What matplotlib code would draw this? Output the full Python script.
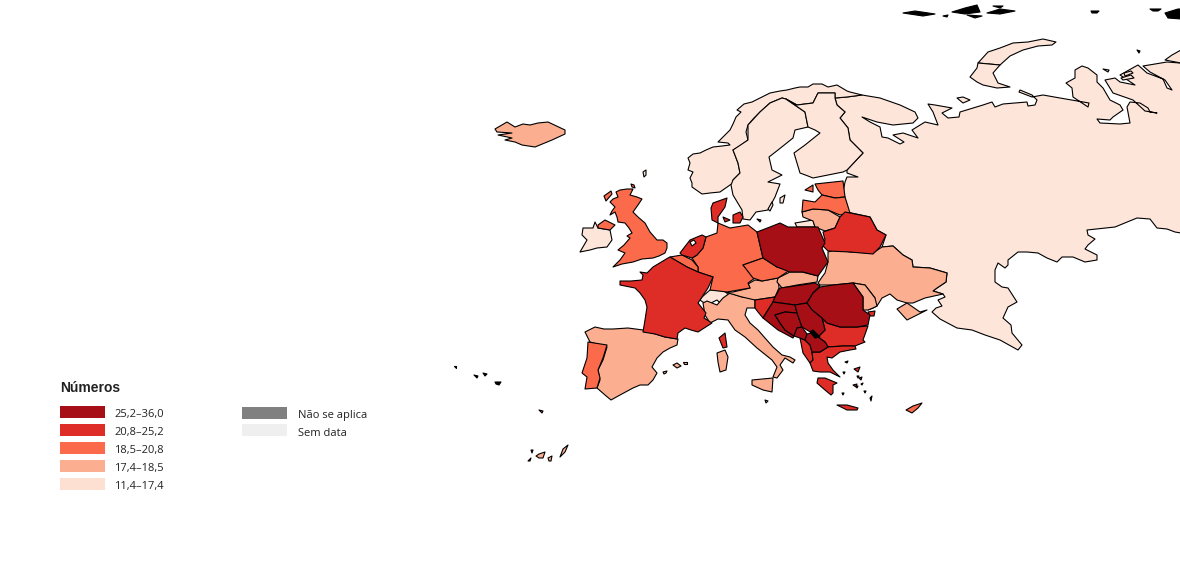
#!/usr/bin/env python3
"""Choropleth of Europe, outlines traced in projected map units (1 unit = 1 px of the figure)."""
import matplotlib
matplotlib.use("Agg")
import matplotlib.pyplot as plt
from matplotlib.patches import Polygon, Rectangle

# --- class labels, darkest first
CLASS_LABELS = ["25,2–36,0", "20,8–25,2", "18,5–20,8", "17,4–18,5", "11,4–17,4"]
CLASS_COLORS = ["#a50f15", "#de2d26", "#fb6a4a", "#fcae91", "#fee5d9"]
OTHER_LABELS = ["Não se aplica", "Sem data"]
OTHER_COLORS = ["#808080", "#efefef"]
NO_DATA_BLACK = "#000000"

# --- outlines
RUSSIA = [(835,98),(847,97),(862,95),(880,98),(900,105),(915,112),(918,118),(913,123),(893,125),(877,122),(862,117),
    (870,122),(880,127),(882,137),(888,138),(900,144),(904,142),(893,135),(903,133),(918,138),(912,130),(925,122),
    (938,125),(933,112),(928,104),(935,105),(952,108),(942,113),(948,118),(959,117),(960,112),(983,105),(992,102),
    (995,107),(1003,104),(1027,102),(1028,106),(1035,105),(1037,100),(1032,95),(1020,90),(1019,92),(1032,97),
    (1043,95),(1060,98),(1089,103),(1088,107),(1073,97),(1072,88),(1066,83),(1075,78),(1075,70),(1082,66),(1088,68),
    (1097,75),(1097,82),(1103,88),(1110,100),(1120,105),(1123,110),(1113,117),(1110,120),(1097,119),(1100,123),
    (1120,124),(1130,123),(1127,107),(1130,102),(1140,103),(1148,108),(1150,112),(1157,113),(1145,111),(1133,100),
    (1113,93),(1105,80),(1115,78),(1120,82),(1135,85),(1120,75),(1138,65),(1147,73),(1163,79),(1167,88),(1172,90),
    (1165,80),(1150,72),(1143,66),(1167,62),(1180,63),(1181,63),(1181,233),(1175,232),(1167,229),(1157,228),(1150,219),
    (1137,218),(1115,227),(1087,230),(1088,235),(1095,239),(1088,245),(1085,249),(1097,255),(1097,260),(1085,262),
    (1073,257),(1062,257),(1057,262),(1047,258),(1038,253),(1027,252),(1018,252),(1008,260),(1008,265),(1005,268),
    (998,263),(995,270),(995,282),(1002,287),(1008,288),(1017,302),(1008,307),(1003,318),(1011,325),(1012,333),
    (1022,345),(1018,350),(1000,340),(985,335),(972,330),(957,328),(940,319),(932,312),(936,308),(942,306),(938,300),
    (945,297),(943,294),(933,291),(937,288),(946,282),(947,273),(930,268),(913,267),(912,260),(903,255),(893,246),
    (882,247),(886,235),(877,230),(870,217),(847,212),(847,205),(843,193),(845,182),(847,177),(858,177),(847,173),
    (847,170),(863,153),(850,140),(848,128),(840,118),(845,112),(837,105)]
NOVAYA_N = [(978,63),(988,52),(1000,48),(1013,43),(1028,42),(1043,39),(1056,42),(1052,45),(1038,46),(1023,50),(1010,56),(1000,65)]
NOVAYA_S = [(978,63),(1000,65),(993,73),(998,83),(1010,87),(997,88),(983,85),(977,82),(970,77),(977,68)]
KOLGUEV = [(957,98),(963,97),(970,100),(963,103)]
KALININGRAD = [(795,223),(813,220),(815,227),(797,227)]
NORWAY = [(692,187),(702,194),(710,193),(720,192),(730,185),(733,183),(733,180),(740,173),(738,163),(733,150),(740,146),(748,140),
    (746,132),(748,125),(754,118),(760,112),(770,103),(782,98),(786,99),(797,105),(813,103),(818,93),(835,93),(835,98),(847,97),
    (862,95),(850,92),(847,91),(842,88),(837,85),(828,87),(822,84),(813,84),(808,87),(800,87),(795,88),(787,90),(780,91),(770,93),
    (762,97),(752,102),(744,104),(737,110),(741,112),(736,117),(733,124),(730,130),(724,136),(718,142),(728,143),(730,145),
    (722,146),(713,147),(706,150),(700,153),(693,154),(688,158),(690,163),(688,170),(693,172),(690,178),(692,183)]
SWEDEN = [(786,99),(805,112),(808,127),(795,130),(793,138),(778,150),(769,157),(772,170),(782,175),(768,182),(780,184),
    (775,197),(768,210),(756,212),(750,220),(743,219),(742,210),(733,195),(731,185),(733,180),(740,173),(738,163),
    (733,150),(748,140),(748,125),(760,112),(770,103),(782,98)]
GOTLAND = [(780,198),(785,195),(783,203),(780,203)]
OLAND = [(768,209),(772,202),(773,205),(770,211)]
FINLAND = [(786,99),(797,105),(813,103),(818,93),(835,93),(835,98),(837,105),(845,112),(840,118),(848,128),(850,140),
    (863,153),(847,170),(843,172),(813,178),(808,176),(800,173),(794,153),(805,145),(820,133),(815,130),(808,127),(805,112)]
ICELAND = [(495,129),(507,122),(515,127),(523,124),(530,125),(538,123),(548,122),(565,130),(565,134),(552,140),(535,147),
    (522,145),(515,142),(505,140),(512,138),(498,135),(512,133),(497,132)]
FAROE = [(643,172),(646,170),(646,175),(644,177)]
UK = [(620,190),(627,189),(633,189),(630,195),(637,197),(642,199),(638,205),(633,212),(638,217),(645,223),(650,232),(657,240),
    (663,240),(667,243),(667,248),(665,253),(659,256),(653,258),(642,259),(633,262),(622,264),(613,267),(620,260),(625,253),
    (618,250),(624,245),(630,238),(627,236),(632,233),(629,228),(625,223),(618,222),(617,217),(615,212),(610,215),(612,211),
    (615,207),(610,202),(613,199),(618,197),(616,192)]
N_IRELAND = [(598,225),(605,220),(615,225),(610,230),(598,228)]
HEBRIDES = [(604,196),(611,191),(612,194),(606,201)]
SHETLAND = [(631,184),(634,185),(635,188),(632,187)]
IRELAND = [(595,222),(598,228),(610,230),(612,240),(607,247),(597,248),(590,250),(580,252),(587,240),(582,235),(583,228),(593,228)]
FRANCE = [(670,257),(687,267),(698,272),(713,277),(708,288),(700,300),(698,303),(706,313),(704,318),(712,323),(698,332),
    (691,330),(685,328),(678,333),(677,339),(665,337),(655,334),(643,332),(645,320),(647,307),(645,300),(640,293),(635,288),
    (620,285),(620,281),(631,281),(642,280),(643,275),(640,272),(647,273),(653,267),(668,258)]
CORSICA = [(719,338),(725,333),(727,347),(723,348)]
SPAIN = [(585,332),(595,327),(604,329),(613,329),(628,328),(643,330),(665,337),(678,339),(677,345),(670,348),(663,352),(657,358),
    (652,367),(657,373),(653,380),(648,385),(640,385),(633,388),(620,395),(611,400),(605,395),(597,388),(600,380),(598,370),
    (603,360),(607,347),(590,342)]
PORTUGAL = [(588,342),(607,345),(603,358),(598,370),(600,378),(597,388),(585,389),(587,377),(582,373),(587,358)]
MALLORCA = [(673,365),(677,363),(681,366),(677,368)]
MENORCA = [(683,362),(687,362),(687,364),(684,364)]
IBIZA = [(663,372),(667,371),(666,373),(664,374)]
SARDINIA = [(717,353),(725,350),(728,357),(726,370),(720,372),(718,362)]
BELGIUM = [(670,257),(682,255),(692,260),(698,267),(698,272),(687,267)]
LUXEMBOURG = [(697,267),(700,272),(697,274)]
NETHERLANDS = [(680,253),(690,240),(702,235),(706,237),(703,248),(697,255),(692,258),(682,255)]
IJSSELMEER = [(690,242),(694,240),(696,243),(692,246)]
DENMARK = [(713,203),(727,198),(725,207),(718,217),(718,223),(712,220),(711,208)]
ZEALAND = [(733,215),(740,212),(743,217),(740,223),(733,223)]
FUNEN = [(723,217),(730,220),(725,222)]
BORNHOLM = [(757,219),(761,220),(760,222)]
GERMANY = [(718,223),(730,228),(748,225),(757,232),(763,258),(743,265),(755,278),(748,283),(750,288),(727,292),(710,290),(713,277),
    (698,272),(698,267),(692,258),(697,255),(703,248),(706,237),(717,233)]
POLAND = [(757,232),(770,227),(780,223),(788,227),(818,227),(825,243),(822,248),(828,262),(818,276),(803,272),(790,272),(777,267),(763,258)]
CZECHIA = [(743,265),(763,258),(777,267),(790,270),(778,278),(762,281),(753,278)]
SLOVAKIA = [(778,278),(790,272),(802,272),(818,276),(817,282),(797,285),(782,288),(777,282)]
AUSTRIA = [(748,284),(755,280),(762,281),(778,278),(779,288),(775,297),(755,300),(742,297),(725,292),(733,292),(750,288)]
SWITZERLAND = [(702,297),(710,290),(725,290),(728,295),(730,298),(722,305),(717,300),(707,305),(700,300)]
SLOVENIA = [(755,300),(775,297),(773,302),(768,310),(763,318),(758,312),(755,308)]
HUNGARY = [(775,297),(780,288),(795,286),(815,283),(820,286),(813,293),(807,303),(795,305),(773,302)]
ROMANIA = [(820,287),(833,285),(853,283),(863,297),(863,310),(870,315),(868,325),(857,327),(840,327),(827,323),(822,318),(812,310),
    (807,303),(813,293)]
DELTA = [(868,312),(875,311),(874,316),(870,316)]
CROATIA = [(773,302),(795,305),(797,313),(785,312),(775,315),(780,323),(785,330),(794,336),(793,338),(778,330),(763,318),(768,310)]
BOSNIA = [(775,315),(785,312),(797,313),(802,327),(797,328),(794,336),(785,330),(780,323)]
SERBIA = [(795,305),(807,303),(812,310),(822,318),(825,330),(818,337),(812,333),(802,327),(797,313)]
KOSOVO = [(810,332),(813,330),(820,337),(815,338)]
MONTENEGRO = [(794,336),(797,328),(802,327),(807,334),(805,340),(800,338)]
ALBANIA = [(800,338),(805,340),(810,345),(812,352),(813,360),(810,363),(803,353)]
N_MACEDONIA = [(810,345),(805,340),(807,334),(812,333),(818,337),(825,342),(828,347),(820,352),(812,352)]
BULGARIA = [(822,318),(827,323),(840,327),(857,327),(868,326),(863,340),(865,342),(855,346),(843,346),(828,347),(825,342),(818,337),(825,330)]
GREECE = [(813,360),(812,352),(820,352),(828,347),(843,346),(855,346),(856,349),(850,350),(840,352),(832,358),(827,357),(828,363),
    (833,370),(840,377),(830,372),(820,372),(813,371),(810,363)]
PELOPONNESE = [(818,378),(825,378),(837,383),(833,385),(833,393),(831,395),(825,390),(817,383)]
CRETE = [(837,405),(847,405),(858,408),(857,410),(847,410)]
LESBOS = [(854,369),(860,367),(858,372)]
RHODES = [(870,398),(872,396),(871,401)]
CYPRUS = [(906,410),(913,406),(922,403),(918,408),(912,413)]
ITALY = [(703,303),(707,301),(717,305),(723,298),(730,293),(742,297),(755,298),(755,308),(747,308),(745,315),(750,323),(758,330),(765,338),
    (773,347),(782,355),(790,357),(795,360),(793,363),(785,358),(780,365),(783,370),(777,378),(773,377),(777,367),(772,360),
    (757,348),(745,337),(735,330),(728,320),(718,319),(710,323),(705,315)]
SICILY = [(752,380),(773,378),(772,392),(763,390),(752,385)]
ESTONIA = [(815,184),(843,181),(845,197),(835,198),(822,195),(818,190)]
SAAREMAA = [(805,190),(813,185),(813,192)]
LATVIA = [(803,200),(815,202),(822,195),(835,198),(845,197),(850,213),(840,215),(828,210),(813,209),(802,212)]
LITHUANIA = [(802,212),(813,209),(828,210),(840,217),(835,228),(825,231),(815,227),(813,221),(803,217)]
BELARUS = [(840,217),(845,212),(870,217),(877,230),(886,235),(880,247),(873,254),(850,252),(828,251),(822,245),(825,240),(823,232),(835,228)]
UKRAINE = [(828,252),(837,249),(850,252),(873,253),(882,247),(893,246),(903,255),(912,260),(913,267),(930,268),(947,273),(946,282),
    (937,288),(933,291),(943,294),(925,298),(913,303),(907,303),(897,300),(890,294),(882,298),(877,306),(873,308),(868,310),
    (875,298),(865,285),(853,283),(833,285),(820,285),(818,283),(822,277),(825,273),(828,262)]
CRIMEA = [(897,309),(907,303),(920,312),(927,310),(907,320)]
MOLDOVA = [(853,283),(865,285),(875,298),(877,306),(873,308),(868,310),(863,310),(863,297)]

# the dark speckled arctic islands
SVALBARD = [(903,13),(915,11),(935,14),(923,16)]
HOPEN = [(943,16),(948,15),(947,17)]
FRANZ_A = [(952,12),(965,8),(977,5),(980,12),(965,14)]
FRANZ_B = [(967,15),(982,16),(975,18)]
FRANZ_C = [(987,13),(1000,9),(1015,11),(1000,14)]
FRANZ_D = [(993,6),(1003,6),(1000,8)]
SEVERNAYA_A = [(1091,11),(1099,11),(1097,13),(1092,13)]
SEVERNAYA_B = [(1150,9),(1161,9),(1158,11),(1153,11)]
SEVERNAYA_C = [(1165,13),(1178,9),(1181,9),(1181,19),(1168,18)]
TAYMYR_ISLE = [(1165,60),(1172,55),(1181,50),(1181,63)]
GYDAN_A = [(1103,69),(1109,70),(1108,72)]
GYDAN_B = [(1124,73),(1131,71),(1133,73),(1125,76)]
GYDAN_C = [(1121,78),(1131,75),(1134,78),(1123,80)]
ISLE_DOT = [(1137,50),(1140,51),(1139,53)]

# Atlantic islands
AZORES_A = [(454,366),(456,366),(456,368)]
AZORES_B = [(474,375),(478,376),(477,378)]
AZORES_C = [(483,373),(487,374),(485,376)]
AZORES_D = [(495,382),(501,382),(499,385),(496,384)]
MADEIRA = [(539,410),(543,411),(542,413)]
CANARY_A = [(531,450),(533,450),(532,453)]
CANARY_B = [(528,461),(531,458),(530,461)]
CANARY_C = [(536,456),(539,454),(545,452),(543,458),(539,458)]
CANARY_D = [(548,458),(552,456),(551,461),(549,461)]
CANARY_E = [(560,457),(563,449),(568,445),(565,452)]

# Aegean specks
CYCLADES = [[(845,362),(848,361),(847,363)], [(843,372),(845,372),(844,374)], [(853,385),(857,384),(856,387)],
    [(861,384),(863,383),(862,385)], [(842,393),(844,393),(843,395)], [(856,386),(858,386),(857,388)],
    [(857,376),(859,376),(858,378)], [(859,378),(862,377),(861,380)], [(864,391),(866,391),(865,393)]]
MALTA = [(765,400),(768,401),(766,403)]

# which class each area falls in
CLASS_AREAS = [
    [POLAND, HUNGARY, ROMANIA, CROATIA, BOSNIA, SERBIA, MONTENEGRO, N_MACEDONIA],
    [FRANCE, CORSICA, NETHERLANDS, DENMARK, ZEALAND, FUNEN, BORNHOLM, BELARUS, SLOVENIA, DELTA, ALBANIA,
     BULGARIA, GREECE, PELOPONNESE, CRETE, LESBOS, RHODES] + CYCLADES,
    [UK, N_IRELAND, HEBRIDES, SHETLAND, GERMANY, CZECHIA, BELGIUM, ESTONIA, SAAREMAA, LATVIA, PORTUGAL, CYPRUS, MADEIRA],
    [ICELAND, SPAIN, MALLORCA, MENORCA, IBIZA, ITALY, SICILY, SARDINIA, MALTA, AUSTRIA, SLOVAKIA, LITHUANIA, UKRAINE, CRIMEA,
     MOLDOVA, CANARY_A, CANARY_B, CANARY_C, CANARY_D, CANARY_E],
    [NOVAYA_N, NOVAYA_S, KOLGUEV, KALININGRAD, NORWAY, SWEDEN, GOTLAND, OLAND, FINLAND, FAROE, IRELAND, SWITZERLAND, LUXEMBOURG,
     GYDAN_A, GYDAN_B, GYDAN_C, TAYMYR_ISLE],
]
BLACK_AREAS = [KOSOVO, SVALBARD, HOPEN, FRANZ_A, FRANZ_B, FRANZ_C, FRANZ_D, SEVERNAYA_A, SEVERNAYA_B, SEVERNAYA_C, ISLE_DOT,
               AZORES_A, AZORES_B, AZORES_C, AZORES_D]

fig = plt.figure(figsize=(11.8, 5.68), dpi=100, facecolor="white")
ax = fig.add_axes([0, 0, 1, 1])
ax.set_xlim(0, 1180)
ax.set_ylim(568, 0)
ax.axis("off")


def draw(pts, color, z=2):
    ax.add_patch(Polygon(pts, closed=True, facecolor=color, edgecolor="black", lw=0.8,
                         joinstyle="round", zorder=z))


draw(RUSSIA, CLASS_COLORS[4], z=1)
# lighter classes first so the dark countries keep a clean edge
for i in (4, 3, 2, 1, 0):
    for pts in CLASS_AREAS[i]:
        draw(pts, CLASS_COLORS[i])
draw(IJSSELMEER, "white", z=3)
for pts in BLACK_AREAS:
    draw(pts, NO_DATA_BLACK, z=3)

# legend
ax.text(60, 388.5, "Números", fontsize=10, fontweight="bold", family="Liberation Sans",
        color="#222222", va="center", ha="left")
row_tops = [406, 424, 442, 460, 478]
for top, col, lab in zip(row_tops, CLASS_COLORS, CLASS_LABELS):
    c = "#fee0d2" if col == CLASS_COLORS[4] else col
    ax.add_patch(Rectangle((60, top), 45, 12, facecolor=c, edgecolor="none"))
    ax.text(114.5, top + 8.5, lab, fontsize=8, family="Open Sans", color="#222222", va="center", ha="left")
for top, col, lab in zip(row_tops[:2], OTHER_COLORS, OTHER_LABELS):
    ax.add_patch(Rectangle((242, top + (1 if col == OTHER_COLORS[0] else 0)), 45, 12, facecolor=col, edgecolor="none"))
    ax.text(297.5, top + 9.5, lab, fontsize=8, family="Open Sans", color="#222222", va="center", ha="left")

fig.savefig("out.png", dpi=100, facecolor="white")
